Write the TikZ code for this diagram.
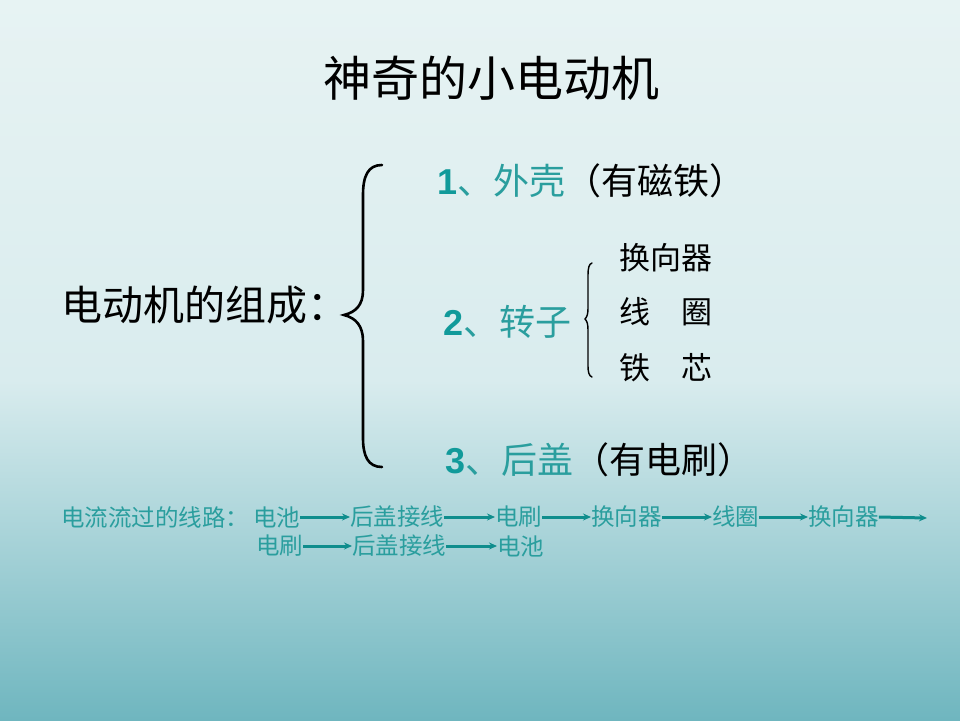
\documentclass[tikz,border=0pt]{standalone}
\usepackage{fontspec}
\setmainfont{Noto Sans CJK SC}
\newfontfamily\lat{Liberation Sans}
\usetikzlibrary{arrows.meta}
\definecolor{bgtop}{HTML}{E7F3F3}
\definecolor{bgmid}{HTML}{D9ECEE}
\definecolor{bgbot}{HTML}{6FB6BF}
\definecolor{tealtxt}{HTML}{2A9E9E}
\definecolor{tealnum}{HTML}{119A9A}
\definecolor{tealarr}{HTML}{0F8D8D}
\tikzset{
  txt/.style={inner sep=0pt, anchor=west},
  title/.style={inner sep=0pt, font=\fontsize{48}{52}\selectfont},
  main/.style={txt, font=\fontsize{41}{45}\selectfont},
  item/.style={txt, font=\fontsize{36}{40}\selectfont, text=tealtxt},
  sub/.style={txt, font=\fontsize{31}{34}\selectfont},
  route/.style={txt, font=\fontsize{23.5}{26}\selectfont, text=tealtxt},
  flow/.style={draw=tealarr, line width=3pt, -{Stealth[length=8pt,width=7pt]}},
  bigbrace/.style={draw=black, line width=2.6pt, line cap=round},
  smallbrace/.style={draw=black, line width=1.4pt, line cap=round}
}
\newcommand{\num}[1]{{\lat\bfseries\color{tealnum}#1}}
\begin{document}
\begin{tikzpicture}[x=1pt,y=1pt]
\useasboundingbox (0,-720) rectangle (960,0);
\shade[top color=bgtop, bottom color=bgmid] (0,-380) rectangle (960,0);
\shade[top color=bgmid, bottom color=bgbot] (0,-720) rectangle (960,-380);

\node[title] (title) at (491,-78) {神奇的小电动机};

\node[main] (comp) at (61,-305) {电动机的组成：};

% big brace
\draw[bigbrace] (382,-165) .. controls (368,-165) and (363,-176) .. (363,-195)
  -- (363,-290) .. controls (363,-305) and (356,-312) .. (344,-315)
  .. controls (356,-318) and (363,-326) .. (363,-341)
  -- (363,-438) .. controls (363,-456) and (368,-467) .. (382,-467);

\node[item] (i1) at (437,-181) {\num{1}、外壳\textcolor{black}{（有磁铁）}};
\node[item] (i2) at (443,-322) {\num{2}、转子};
\node[item] (i3) at (445,-460) {\num{3}、后盖\textcolor{black}{（有电刷）}};

% small brace
\draw[smallbrace] (592,-263) .. controls (589,-264) and (588,-268) .. (588,-275)
  -- (588,-308) .. controls (588,-314) and (587,-317) .. (585,-319)
  .. controls (587,-321) and (588,-324) .. (588,-330)
  -- (588,-366) .. controls (588,-372) and (589,-376) .. (592,-377);

\node[sub] (s1) at (619,-258) {换向器};
\node[sub] (s2) at (619,-312) {线\hspace{1em}圈};
\node[sub] (s3) at (619,-368) {铁\hspace{1em}芯};

% route
\node[route] (lbl) at (61,-517) {电流流过的线路：};
\node[route] (r1a) at (253,-517) {电池};
\node[route] (r1b) at (350,-517) {后盖接线};
\node[route] (r1c) at (495,-517) {电刷};
\node[route] (r1d) at (591,-517) {换向器};
\node[route] (r1e) at (712,-517) {线圈};
\node[route] (r1f) at (808,-517) {换向器};
\coordinate (r1end) at (927,-518);
\draw[flow] (r1a.east) -- (r1b.west);
\draw[flow] (r1b.east) -- (r1c.west);
\draw[flow] (r1c.east) -- (r1d.west);
\draw[flow] (r1d.east) -- (r1e.west);
\draw[flow] (r1e.east) -- (r1f.west);
\draw[flow] (r1f.east) -- (r1end);

\node[route] (r2a) at (256,-546) {电刷};
\node[route] (r2b) at (352,-546) {后盖接线};
\node[route] (r2c) at (497,-546) {电池};
\draw[flow] (r2a.east) -- (r2b.west);
\draw[flow] (r2b.east) -- (r2c.west);
\end{tikzpicture}
\end{document}
